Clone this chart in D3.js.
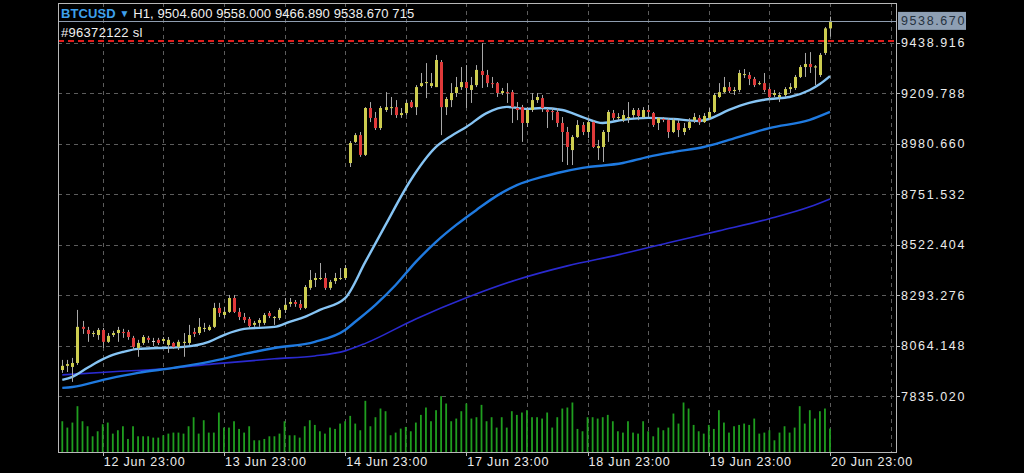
<!DOCTYPE html>
<html><head><meta charset="utf-8">
<script src="https://cdn.jsdelivr.net/npm/d3@7"></script>
<style>html,body{margin:0;padding:0;background:#000;overflow:hidden}svg{display:block}</style>
</head><body>
<svg id="c" width="1024" height="473"></svg>
<script>
// ---- data (H1 bars, index 0 = 12 Jun 15:00) ----
const opens = [7953,7972,7967,7985,8149,8135,8117,8112,8135,8081,8112,8121,8126,8126,8099,8053,8076,8099,8083,8090,8085,8067,8076,8058,8076,8076,8126,8121,8140,8135,8149,8235,8203,8217,8280,8217,8194,8185,8158,8167,8167,8212,8189,8189,8226,8253,8262,8253,8235,8326,8362,8367,8371,8326,8357,8367,8371,8893,8989,9020,8930,9143,9098,9052,9134,9143,9147,9111,9120,9170,9147,9243,9256,9243,9238,9352,9147,9179,9211,9238,9261,9225,9247,9311,9293,9256,9256,9211,9215,9215,9143,9147,9075,9134,9179,9188,9134,9129,9125,9075,9034,8952,9011,9066,9034,9079,8961,8966,9034,9120,9098,9088,9098,9111,9134,9102,9134,9120,9075,9093,9088,9034,9075,9034,9052,9088,9098,9079,9098,9125,9193,9215,9238,9220,9225,9293,9293,9275,9252,9256,9229,9202,9193,9202,9229,9234,9284,9329,9343,9327,9293,9393,9504.6];
const highs = [7999,7999,8008,8226,8176,8149,8131,8144,8144,8121,8131,8149,8140,8135,8108,8090,8112,8108,8099,8099,8103,8103,8081,8090,8121,8158,8144,8189,8167,8158,8258,8258,8240,8294,8294,8235,8212,8194,8176,8189,8212,8221,8198,8235,8280,8280,8271,8271,8339,8407,8394,8439,8394,8362,8394,8416,8430,8993,9029,9034,9147,9170,9125,9152,9215,9193,9179,9143,9179,9179,9247,9302,9347,9302,9384,9361,9193,9256,9284,9329,9338,9284,9338,9438,9316,9284,9261,9234,9256,9225,9170,9157,9147,9211,9211,9202,9143,9143,9143,9102,9057,9020,9088,9079,9097,9088,8998,9043,9134,9134,9120,9134,9170,9143,9143,9147,9157,9125,9102,9102,9097,9097,9088,9075,9097,9120,9111,9120,9143,9211,9256,9284,9261,9238,9316,9320,9306,9284,9265,9302,9238,9225,9215,9238,9256,9293,9338,9393,9397,9338,9393,9511,9558];
const lows = [7940,7944,7899,7976,8117,8081,8103,8090,8053,8076,8103,8081,8099,8090,8044,8013,8067,8076,8062,8067,8071,8031,8049,8044,8013,8067,8103,8112,8126,8131,8144,8194,8189,8212,8212,8180,8167,8144,8149,8149,8158,8189,8158,8180,8212,8240,8240,8226,8230,8317,8330,8362,8317,8317,8344,8362,8362,8875,8984,8921,8925,9079,9043,9043,9125,9111,9098,9098,9111,9143,9111,9238,9188,9234,9238,9020,9111,9147,9193,9225,9143,9166,9238,9234,9238,9234,9193,9202,9166,9075,9088,8989,9057,9125,9166,9125,9052,9088,9057,8898,8884,8884,9007,9020,9007,8961,8907,8898,8989,9088,9088,9079,9075,9098,9088,9098,9102,9057,9043,9079,9007,9029,9011,9020,9043,9075,9066,9075,9088,9120,9188,9211,9211,9202,9215,9279,9247,9238,9247,9215,9179,9193,9170,9193,9211,9225,9279,9284,9302,9247,9284,9384,9466.89];
const closes = [7972,7980,7985,8149,8140,8117,8121,8135,8081,8108,8121,8135,8121,8103,8058,8076,8103,8090,8085,8076,8094,8090,8058,8081,8081,8112,8117,8149,8144,8149,8235,8212,8217,8280,8217,8194,8180,8153,8167,8180,8203,8198,8194,8226,8249,8262,8253,8235,8330,8362,8371,8371,8326,8353,8371,8371,8416,8984,9020,8930,9143,9098,9052,9143,9147,9147,9111,9120,9166,9147,9238,9256,9261,9256,9361,9147,9184,9211,9238,9261,9234,9247,9316,9293,9256,9252,9211,9220,9211,9147,9134,9075,9134,9179,9193,9143,9125,9125,9075,9034,8966,9011,9066,9034,9079,8966,8970,9034,9125,9098,9102,9111,9102,9134,9107,9134,9125,9066,9098,9089,9034,9088,9043,9052,9079,9102,9079,9107,9125,9202,9215,9238,9220,9225,9302,9297,9275,9247,9256,9225,9193,9211,9202,9229,9238,9284,9329,9343,9329,9332,9384,9504.6,9538.67];
const volumes = [938,745,898,1397,938,785,479,632,847,898,561,663,785,398,785,479,479,479,439,439,510,561,592,592,561,785,1061,561,969,592,592,1204,745,745,938,704,592,785,357,357,398,479,479,561,938,510,510,439,785,969,826,632,561,745,704,867,938,1102,867,663,1561,785,1061,1326,1244,510,592,714,765,632,898,1132,1357,938,1275,1703,1479,938,1020,1244,1479,1020,1061,1438,938,1061,745,1061,745,1244,1132,1204,1275,1061,1061,1020,1204,745,1061,1326,1357,1510,704,632,1061,1061,1020,1061,1132,938,632,592,938,592,561,938,632,479,745,663,745,1173,867,1510,1326,826,632,561,826,704,1275,898,592,785,826,867,826,1020,561,592,663,357,592,785,592,745,1397,867,1275,1020,1244,1326,715];

// moving averages (bar index, price)
const maFastBars = [0,2,5,7,10,12,15,19,24,29,32,36,42,45,48,51,56,60,64,69,74,77,80,84,88,92,95,99,103,107,111,116,121,126,128,132,136,140,144,148,150,152];
const maFast     = [7908,7922,7963,7990,8022,8035,8049,8053,8058,8081,8112,8140,8149,8172,8194,8226,8280,8444,8612,8816,8966,9016,9057,9120,9148,9139,9143,9134,9102,9075,9089,9098,9093,9084,9093,9134,9166,9184,9193,9225,9252,9288];
const maMidBars = [0,2,9,15,22,29,36,42,50,56,58,62,66,70,74,78,82,86,90,95,98,103,111,116,121,127,132,140,148,152];
const maMid     = [7872,7876,7913,7940,7963,7990,8026,8053,8081,8135,8172,8249,8339,8444,8535,8612,8680,8744,8793,8830,8848,8871,8893,8921,8943,8966,8998,9052,9089,9125];
const maSlowBars = [0,10,20,30,42,50,56,60,70,80,90,100,110,120,130,140,148,152];
const maSlow     = [7931,7945,7958,7981,8004,8017,8040,8074,8185,8281,8363,8426,8476,8531,8585,8640,8694,8730];

const priceTicks = [9438.916,9209.788,8980.660,8751.532,8522.404,8293.276,8064.148,7835.020];
const timeLabels = ["12 Jun 23:00","13 Jun 23:00","14 Jun 23:00","17 Jun 23:00","18 Jun 23:00","19 Jun 23:00","20 Jun 23:00"];
const timeLabelBars = [8,32,56,80,104,128,152];
const headerSymbol = "BTCUSD";
const headerRest = "H1, 9504.600 9558.000 9466.890 9538.670 715";
const orderLabel = "#96372122 sl";
const slPrice = 9447;
const bidPrice = 9538.67;

// ---- layout ----
const L = 58, R = 896, T = 3, B = 452;
const svg = d3.select("#c");
svg.append("rect").attr("width",1024).attr("height",473).attr("fill","#000");

const x = d3.scaleLinear().domain([0,152]).range([62.3,830]);
const y = d3.scaleLinear().domain([7835.020,9209.788]).range([396.0,93.3]);
const yv = d3.scaleLinear().domain([0,1708]).range([B,396]);

svg.append("clipPath").attr("id","clip").append("rect").attr("x",L).attr("y",T).attr("width",R-L).attr("height",B-T);
const g = svg.append("g").attr("clip-path","url(#clip)");

// grid
const gridCol = "#5c5c5c";
g.selectAll(".hg").data(priceTicks).enter().append("line")
  .attr("x1",L).attr("x2",R).attr("y1",d=>Math.round(y(d))+0.5).attr("y2",d=>Math.round(y(d))+0.5)
  .attr("stroke",gridCol).attr("stroke-dasharray","4,4").attr("stroke-width",1);
const gridBars = d3.range(8,165,12);
g.selectAll(".vg").data(gridBars).enter().append("line")
  .attr("x1",d=>Math.round(x(d))+0.5).attr("x2",d=>Math.round(x(d))+0.5).attr("y1",T).attr("y2",B)
  .attr("stroke",gridCol).attr("stroke-dasharray","4,4").attr("stroke-width",1);

// volumes
g.selectAll(".vol").data(volumes).enter().append("rect")
  .attr("x",(d,i)=>x(i)-0.9).attr("width",1.8)
  .attr("y",d=>yv(d)).attr("height",d=>B-yv(d)).attr("fill","#1f9e1f");

// moving averages
const line = d3.line().x(d=>x(d[0])).y(d=>y(d[1])).curve(d3.curveMonotoneX);
g.append("path").datum(maSlowBars.map((b,i)=>[b,maSlow[i]])).attr("d",line)
  .attr("fill","none").attr("stroke","#2a2ad0").attr("stroke-width",1.6);
g.append("path").datum(maMidBars.map((b,i)=>[b,maMid[i]])).attr("d",line)
  .attr("fill","none").attr("stroke","#1f7ae0").attr("stroke-width",2.4);
g.append("path").datum(maFastBars.map((b,i)=>[b,maFast[i]])).attr("d",line)
  .attr("fill","none").attr("stroke","#86c4f4").attr("stroke-width",2.4);

// candles
const bars = opens.map((o,i)=>({i,o,h:highs[i],l:lows[i],c:closes[i]}));
const cg = g.selectAll(".cdl").data(bars).enter().append("g");
cg.append("line").attr("x1",d=>Math.round(x(d.i))+0.5).attr("x2",d=>Math.round(x(d.i))+0.5)
  .attr("y1",d=>y(d.h)).attr("y2",d=>y(d.l)).attr("stroke","#a8a8a8").attr("stroke-width",1);
cg.append("rect").attr("x",d=>Math.round(x(d.i))-1).attr("width",3)
  .attr("y",d=>y(Math.max(d.o,d.c)))
  .attr("height",d=>Math.max(1,Math.abs(y(d.o)-y(d.c))))
  .attr("fill",d=>Math.abs(d.c-d.o)<3?"#d8d8d8":(d.c>d.o?"#cdcd50":"#e03a3a"));

// bid line and stop-loss line
g.append("line").attr("x1",L).attr("x2",R).attr("y1",Math.round(y(bidPrice))+0.5).attr("y2",Math.round(y(bidPrice))+0.5)
  .attr("stroke","#8f9db0").attr("stroke-width",1);
g.append("line").attr("x1",L).attr("x2",R).attr("y1",Math.round(y(slPrice))).attr("y2",Math.round(y(slPrice)))
  .attr("stroke","#e21c1c").attr("stroke-width",2).attr("stroke-dasharray","6,4");

// frame
svg.append("rect").attr("x",L+0.5).attr("y",T+0.5).attr("width",R-L).attr("height",B-T)
  .attr("fill","none").attr("stroke","#b8b8b8").attr("stroke-width",1);

// right axis
const font = "'Liberation Sans', Arial, sans-serif";
svg.selectAll(".pt").data(priceTicks).enter().append("line")
  .attr("x1",R).attr("x2",R+4).attr("y1",d=>Math.round(y(d))+0.5).attr("y2",d=>Math.round(y(d))+0.5)
  .attr("stroke","#b8b8b8");
svg.selectAll(".pl").data(priceTicks).enter().append("text")
  .attr("x",R+5).attr("y",d=>y(d)+4.6).text(d=>d.toFixed(3))
  .attr("fill","#ececec").attr("font-family",font).attr("font-size","12.5px").attr("letter-spacing","1.6px");

// bid price box
const by = y(bidPrice);
svg.append("rect").attr("x",R+2).attr("y",by-9).attr("width",68).attr("height",18).attr("fill","#8e9fb3");
svg.append("text").attr("x",R+5).attr("y",by+4.6).text(bidPrice.toFixed(3))
  .attr("fill","#263240").attr("font-family",font).attr("font-size","12.5px").attr("letter-spacing","1.6px");

// time axis
svg.selectAll(".tt").data(timeLabelBars).enter().append("line")
  .attr("x1",d=>Math.round(x(d))+0.5).attr("x2",d=>Math.round(x(d))+0.5).attr("y1",B).attr("y2",B+4)
  .attr("stroke","#b8b8b8");
svg.selectAll(".tl").data(timeLabels).enter().append("text")
  .attr("x",(d,i)=>x(timeLabelBars[i])+1).attr("y",466).text(d=>d)
  .attr("fill","#ececec").attr("font-family",font).attr("font-size","12.5px").attr("letter-spacing","0.8px");

// header
const ht = svg.append("text").attr("x",61).attr("y",17.5).attr("font-family",font).attr("font-size","13px").attr("letter-spacing","0.1px");
ht.append("tspan").text(headerSymbol+" ").attr("fill","#3ea0ec").attr("font-weight","bold");
ht.append("tspan").text("\u25BC").attr("fill","#3ea0ec").attr("font-size","10px").attr("dy","-1");
ht.append("tspan").text(" "+headerRest).attr("fill","#f0f0f0").attr("dy","1");
svg.append("text").attr("x",61).attr("y",37).text(orderLabel).attr("fill","#f0f0f0")
  .attr("font-family",font).attr("font-size","13px").attr("letter-spacing","0.3px");
</script>
</body></html>
